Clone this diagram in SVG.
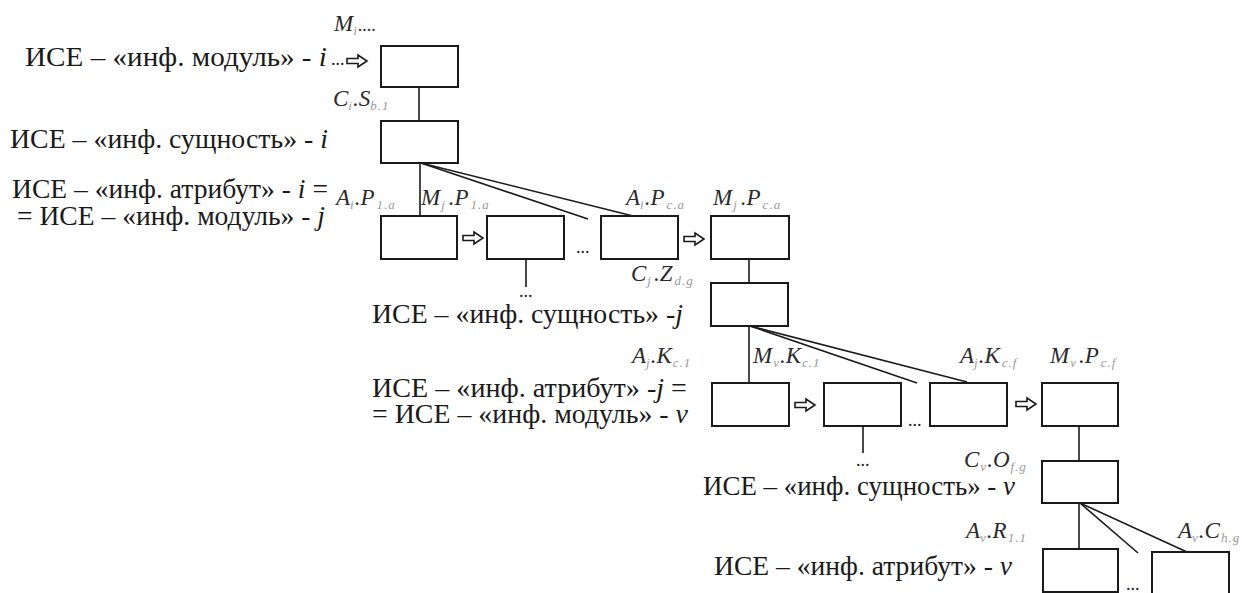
<svg xmlns="http://www.w3.org/2000/svg" width="1256" height="593" viewBox="0 0 1256 593">
<style>
.t{font-family:'Liberation Serif','Times New Roman',serif;font-size:27px;fill:#1a1a1a}
.it{font-style:italic}
.l{font-family:'Liberation Serif','Times New Roman',serif;font-size:23px;font-style:italic;fill:#2a2a2a}
.s{font-size:13px;fill:#9a9a9a;letter-spacing:1px}
.b{fill:#fff;stroke:#1a1a1a;stroke-width:2}
.c{stroke:#1a1a1a;stroke-width:1.6;fill:none}
.ar{fill:#fff;stroke:#1a1a1a;stroke-width:1.6;stroke-linejoin:miter}
.d{font-family:'Liberation Serif','Times New Roman',serif;font-size:18px;fill:#1a1a1a}
</style>
<defs>
<path id="arr" d="M0,-2.5 H11 V-6 L20,0 L11,6 V2.5 H0 Z"/>
</defs>

<g id="connectors">
<line class="c" x1="419" y1="87" x2="419" y2="121"/>
<line class="c" x1="420" y1="163" x2="420" y2="216"/>
<line class="c" x1="421" y1="163" x2="588" y2="219"/>
<line class="c" x1="421" y1="163" x2="633" y2="216"/>
<line class="c" x1="526" y1="259" x2="526" y2="287"/>
<line class="c" x1="749" y1="259" x2="749" y2="283"/>
<line class="c" x1="749" y1="326" x2="749" y2="383"/>
<line class="c" x1="750" y1="326" x2="917" y2="383"/>
<line class="c" x1="750" y1="326" x2="967" y2="382"/>
<line class="c" x1="863" y1="426" x2="863" y2="453"/>
<line class="c" x1="1079" y1="426" x2="1079" y2="461"/>
<line class="c" x1="1079" y1="503" x2="1079" y2="549"/>
<line class="c" x1="1080" y1="503" x2="1138" y2="553"/>
<line class="c" x1="1080" y1="503" x2="1187" y2="552"/>
<use href="#arr" class="ar" x="347" y="61"/>
<use href="#arr" class="ar" x="463" y="238"/>
<use href="#arr" class="ar" x="684" y="239"/>
<use href="#arr" class="ar" x="795" y="405"/>
<use href="#arr" class="ar" x="1016" y="404"/>
</g>

<g id="texts">
<text class="t" x="25" y="66" textLength="302" lengthAdjust="spacingAndGlyphs">ИСЕ – «инф. модуль» - <tspan class="it">i</tspan></text>
<text class="d" x="331" y="65">...</text>
<text class="t" x="10" y="148" textLength="318" lengthAdjust="spacingAndGlyphs">ИСЕ – «инф. сущность» - <tspan class="it">i</tspan></text>
<text class="t" x="12" y="198" textLength="316" lengthAdjust="spacingAndGlyphs">ИСЕ – «инф. атрибут» - <tspan class="it">i</tspan> =</text>
<text class="t" x="17" y="225" textLength="308" lengthAdjust="spacingAndGlyphs">= ИСЕ – «инф. модуль» - <tspan class="it">j</tspan></text>
<text class="t" x="372" y="323" textLength="311" lengthAdjust="spacingAndGlyphs">ИСЕ – «инф. сущность» -<tspan class="it">j</tspan></text>
<text class="t" x="372" y="397" textLength="315" lengthAdjust="spacingAndGlyphs">ИСЕ – «инф. атрибут» -<tspan class="it">j</tspan> =</text>
<text class="t" x="372" y="423" textLength="316" lengthAdjust="spacingAndGlyphs">= ИСЕ – «инф. модуль» - <tspan class="it">v</tspan></text>
<text class="t" x="703" y="495" textLength="312" lengthAdjust="spacingAndGlyphs">ИСЕ – «инф. сущность» - <tspan class="it">v</tspan></text>
<text class="t" x="714" y="575" textLength="298" lengthAdjust="spacingAndGlyphs">ИСЕ – «инф. атрибут» - <tspan class="it">v</tspan></text>
<text class="d" x="576" y="253">...</text>
<text class="d" x="519" y="297">...</text>
<text class="d" x="908" y="426">...</text>
<text class="d" x="856" y="466">...</text>
<text class="d" x="1126" y="590">...</text>
</g>

<g id="labels">
<text class="l" x="334" y="31">M<tspan class="s" dy="4">i</tspan><tspan dy="-4" font-style="normal" font-size="18">....</tspan></text>
<text class="l" x="333" y="106">C<tspan class="s" dy="4">i</tspan><tspan dy="-4">.S</tspan><tspan class="s" dy="4">b.1</tspan></text>
<text class="l" x="336" y="205">A<tspan class="s" dy="4">i</tspan><tspan dy="-4">.P</tspan><tspan class="s" dy="4" dx="2">1.a</tspan></text>
<text class="l" x="421" y="205">M<tspan class="s" dy="4" dx="1">j</tspan><tspan dy="-4" dx="3">.P</tspan><tspan class="s" dy="4" dx="2">1.a</tspan></text>
<text class="l" x="626" y="205">A<tspan class="s" dy="4">i</tspan><tspan dy="-4">.P</tspan><tspan class="s" dy="4" dx="2">c.a</tspan></text>
<text class="l" x="713" y="205">M<tspan class="s" dy="4" dx="1">j</tspan><tspan dy="-4" dx="3">.P</tspan><tspan class="s" dy="4" dx="2">c.a</tspan></text>
<text class="l" x="631" y="281">C<tspan class="s" dy="4" dx="1">j</tspan><tspan dy="-4" dx="2">.Z</tspan><tspan class="s" dy="4" dx="2">d.g</tspan></text>
<text class="l" x="632" y="363">A<tspan class="s" dy="4">j</tspan><tspan dy="-4">.K</tspan><tspan class="s" dy="4" dx="1">c.1</tspan></text>
<text class="l" x="753" y="363">M<tspan class="s" dy="4" dx="1">v</tspan><tspan dy="-4">.K</tspan><tspan class="s" dy="4" dx="1">c.1</tspan></text>
<text class="l" x="960" y="363">A<tspan class="s" dy="4">j</tspan><tspan dy="-4">.K</tspan><tspan class="s" dy="4" dx="2">c.f</tspan></text>
<text class="l" x="1050" y="363">M<tspan class="s" dy="4" dx="1">v</tspan><tspan dy="-4" dx="2">.P</tspan><tspan class="s" dy="4" dx="2">c.f</tspan></text>
<text class="l" x="964" y="467">C<tspan class="s" dy="4" dx="1">v</tspan><tspan dy="-4">.O</tspan><tspan class="s" dy="4" dx="1">f.g</tspan></text>
<text class="l" x="966" y="538">A<tspan class="s" dy="4">v</tspan><tspan dy="-4">.R</tspan><tspan class="s" dy="4" dx="1">1.1</tspan></text>
<text class="l" x="1178" y="538">A<tspan class="s" dy="4">v</tspan><tspan dy="-4">.C</tspan><tspan class="s" dy="4" dx="1">h.g</tspan></text>
</g>

<g id="node-module-i"><rect class="b" x="381" y="46" width="77" height="41"/></g>
<g id="node-entity-i"><rect class="b" x="381" y="121" width="77" height="42"/></g>
<g id="node-attr-i-1"><rect class="b" x="381" y="216" width="76" height="43"/></g>
<g id="node-module-j-1"><rect class="b" x="487" y="216" width="77" height="43"/></g>
<g id="node-attr-i-c"><rect class="b" x="601" y="216" width="77" height="43"/></g>
<g id="node-module-j-c"><rect class="b" x="711" y="216" width="78" height="43"/></g>
<g id="node-entity-j"><rect class="b" x="711" y="283" width="77" height="43"/></g>
<g id="node-attr-j-1"><rect class="b" x="712" y="383" width="77" height="43"/></g>
<g id="node-module-v-1"><rect class="b" x="824" y="383" width="77" height="43"/></g>
<g id="node-attr-j-f"><rect class="b" x="930" y="383" width="77" height="43"/></g>
<g id="node-module-v-f"><rect class="b" x="1042" y="383" width="76" height="43"/></g>
<g id="node-entity-v"><rect class="b" x="1042" y="461" width="76" height="42"/></g>
<g id="node-attr-v-1"><rect class="b" x="1043" y="549" width="75" height="43"/></g>
<g id="node-attr-v-h"><rect class="b" x="1152" y="552" width="77" height="45"/></g>
</svg>
